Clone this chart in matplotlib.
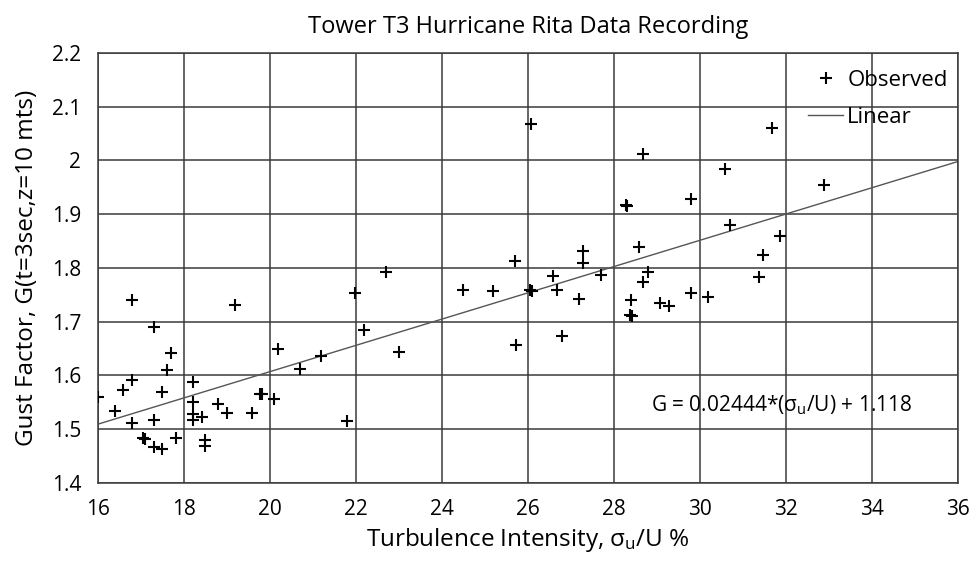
import numpy as np
import matplotlib.pyplot as plt

plt.rcParams['font.family'] = ['Open Sans', 'DejaVu Sans']
plt.rcParams['mathtext.default'] = 'regular'

# Tower T3 gust factor vs turbulence intensity (Hurricane Rita)
turb_int = [16.01, 16.40, 16.59, 16.78, 16.80, 16.80, 17.05, 17.10, 17.30, 17.30,
            17.30, 17.50, 17.50, 17.60, 17.70, 17.81, 18.22, 18.22, 18.22, 18.22,
            18.41, 18.50, 18.50, 18.78, 18.99, 19.19, 19.59, 19.77, 19.82, 20.10,
            20.19, 20.70, 21.18, 21.78, 21.98, 22.19, 22.70, 23.00, 24.48, 25.19,
            25.70, 25.71, 26.05, 26.10, 26.59, 26.68, 26.78, 27.19, 27.29, 27.29,
            27.69, 28.27, 28.31, 28.38, 28.42, 28.40, 28.58, 28.68, 28.68, 28.78,
            29.07, 29.28, 29.78, 29.78, 30.19, 30.59, 30.70, 31.38, 31.47, 31.67,
            31.86, 32.88, 26.07]
gust_factor = [1.559, 1.534, 1.573, 1.740, 1.591, 1.512, 1.483, 1.481, 1.689, 1.517,
               1.466, 1.568, 1.462, 1.609, 1.642, 1.484, 1.588, 1.551, 1.528, 1.517,
               1.522, 1.480, 1.468, 1.547, 1.530, 1.731, 1.529, 1.565, 1.565, 1.555,
               1.649, 1.611, 1.636, 1.515, 1.754, 1.684, 1.793, 1.643, 1.758, 1.756,
               1.813, 1.656, 1.758, 1.757, 1.785, 1.758, 1.673, 1.742, 1.832, 1.809,
               1.787, 1.916, 1.915, 1.712, 1.710, 1.740, 1.838, 2.012, 1.774, 1.792,
               1.734, 1.728, 1.928, 1.753, 1.746, 1.984, 1.880, 1.782, 1.823, 2.061,
               1.859, 1.954, 2.067]

slope = 0.02444
intercept = 1.118
x_ticks = np.arange(16, 37, 2)
y_ticks = np.round(np.arange(1.4, 2.21, 0.1), 1)
y_labels = ['1.4', '1.5', '1.6', '1.7', '1.8', '1.9', '2', '2.1', '2.2']

fig = plt.figure(figsize=(9.7, 5.62), dpi=100)
ax = fig.add_axes([0.101, 0.141, 0.8866, 0.765])

ax.plot(turb_int, gust_factor, linestyle='none', marker='+', markersize=8,
        markeredgewidth=1.5, color='black', label='Observed', zorder=3)

fit_x = np.array([16, 36])
ax.plot(fit_x, slope * fit_x + intercept, color='#555555', linewidth=1.0,
        label='Linear', zorder=2)

ax.set_xlim(16, 36)
ax.set_ylim(1.4, 2.2)
ax.set_xticks(x_ticks)
ax.set_yticks(y_ticks)
ax.set_yticklabels(y_labels)
ax.tick_params(length=0, labelsize=15, colors='black')
ax.tick_params(axis='x', pad=12)
ax.tick_params(axis='y', pad=12)
ax.grid(True, color='#3a3a3a', linewidth=1.1, zorder=0)
ax.set_axisbelow(True)
for sp in ax.spines.values():
    sp.set_color('#3a3a3a')
    sp.set_linewidth(1.1)

ax.set_title('Tower T3 Hurricane Rita Data Recording', fontsize=17, pad=14)
ax.set_xlabel('Turbulence Intensity, σ$_{u}$/U %', fontsize=17.5, labelpad=4)
ax.set_ylabel('Gust Factor, G(t=3sec,z=10 mts)', fontsize=17.5, labelpad=9)

ax.text(31.9, 1.545, 'G = 0.02444*(σ$_{u}$/U) + 1.118', fontsize=15,
        ha='center', va='center')

ax.legend(loc='upper right', frameon=False, fontsize=16, handlelength=1.55,
          handletextpad=0.2, borderaxespad=0, borderpad=0, labelspacing=0.7,
          bbox_to_anchor=(0.988, 0.96))

fig.savefig('out.png', dpi=100)
